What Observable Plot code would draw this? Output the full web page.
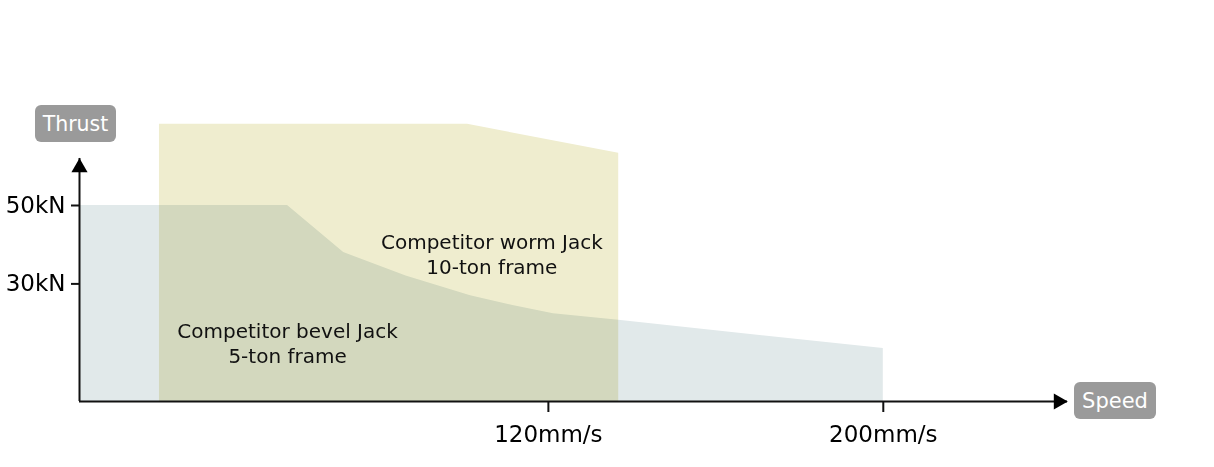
<!DOCTYPE html>
<html>
<head>
<meta charset="utf-8">
<script src="https://cdn.jsdelivr.net/npm/d3@7"></script>
<script src="https://cdn.jsdelivr.net/npm/@observablehq/plot@0.6"></script>
<style>
  html, body { margin: 0; padding: 0; background: #fff; }
  #wrap { position: relative; width: 1214px; height: 467px; font-family: "DejaVu Sans", Verdana, sans-serif; }
  .badge { position: absolute; background: #9a9a9a; color: #fff; border-radius: 6px;
           display: flex; align-items: center; justify-content: center; }
</style>
</head>
<body>
<div id="wrap"></div>
<script>
// Competitor bevel jack, 5-ton frame (speed mm/s, thrust kN)
const bevelSpeed  = [8, 57.7, 71.1, 86, 101.4, 111.5, 121.2, 136.8, 200];
const bevelThrust = [50, 50, 38, 32, 27, 24.5, 22.4, 20.7, 13.5];
// Competitor worm jack, 10-ton frame
const wormSpeed  = [27.1, 100.7, 136.8];
const wormThrust = [70.7, 70.7, 63.3];
// axis ticks
const speedTicks = [120, 200];
const thrustTicks = [30, 50];
// axis extents (schematic)
const speedAxis = [8, 244];
const thrustAxis = [0, 62];
// annotations
const labels = [
  {x: 106.5, y: 37.7, text: "Competitor worm Jack\n10-ton frame"},
  {x: 57.7, y: 15.0, text: "Competitor bevel Jack\n5-ton frame"}
];

const bevel = bevelSpeed.map((s, i) => ({speed: s, thrust: bevelThrust[i]}));
const worm = wormSpeed.map((s, i) => ({speed: s, thrust: wormThrust[i]}));

const chart = Plot.plot({
  width: 1214,
  height: 467,
  marginLeft: 79,
  marginRight: 147,
  marginTop: 9,
  marginBottom: 66,
  style: {fontFamily: "DejaVu Sans, Verdana, sans-serif", background: "transparent", color: "#111"},
  x: {domain: speedAxis},
  y: {domain: [0, 100]},
  marks: [
    Plot.areaY(bevel, {x: "speed", y: "thrust", fill: "#e1e9ea"}),
    Plot.areaY(worm, {x: "speed", y: "thrust", fill: "#efedcf", mixBlendMode: "multiply"}),
    Plot.text(labels, {x: "x", y: "y", text: "text", fontSize: 20, lineHeight: 1.25, fill: "#111", textAnchor: "middle"}),
    Plot.ruleY([0], {x1: speedAxis[0], x2: speedAxis[1], stroke: "#111", strokeWidth: 2}),
    Plot.ruleX([speedAxis[0]], {y1: thrustAxis[0], y2: thrustAxis[1], stroke: "#111", strokeWidth: 2}),
    Plot.dot([0], {x: speedAxis[1], y: 0, symbol: "triangle", r: 6, rotate: 90, dx: -9, fill: "#000", stroke: null}),
    Plot.dot([0], {x: speedAxis[0], y: thrustAxis[1], symbol: "triangle", r: 6, dy: 9, fill: "#000", stroke: null}),
    Plot.axisX({ticks: speedTicks, tickFormat: d => d + "mm/s", tickSize: 11, tickPadding: 13, fontSize: 23, label: null, stroke: "#111", strokeWidth: 2, fill: "#000"}),
    Plot.axisY({ticks: thrustTicks, tickFormat: d => d + "kN", tickSize: 8, tickPadding: 6, fontSize: 23, label: null, stroke: "#111", strokeWidth: 2, fill: "#000"})
  ]
});

const wrap = document.getElementById("wrap");
wrap.appendChild(chart);
chart.style.position = "absolute";
chart.style.left = "0";
chart.style.top = "0";

function badge(text, left, top, w, h, fs) {
  const d = document.createElement("div");
  d.className = "badge";
  d.textContent = text;
  Object.assign(d.style, {left: left + "px", top: top + "px", width: w + "px", height: h + "px", fontSize: fs + "px"});
  wrap.appendChild(d);
}
badge("Thrust", 35, 105, 81, 37, 20.5);
badge("Speed", 1074, 382, 82, 37, 21);
</script>
</body>
</html>
